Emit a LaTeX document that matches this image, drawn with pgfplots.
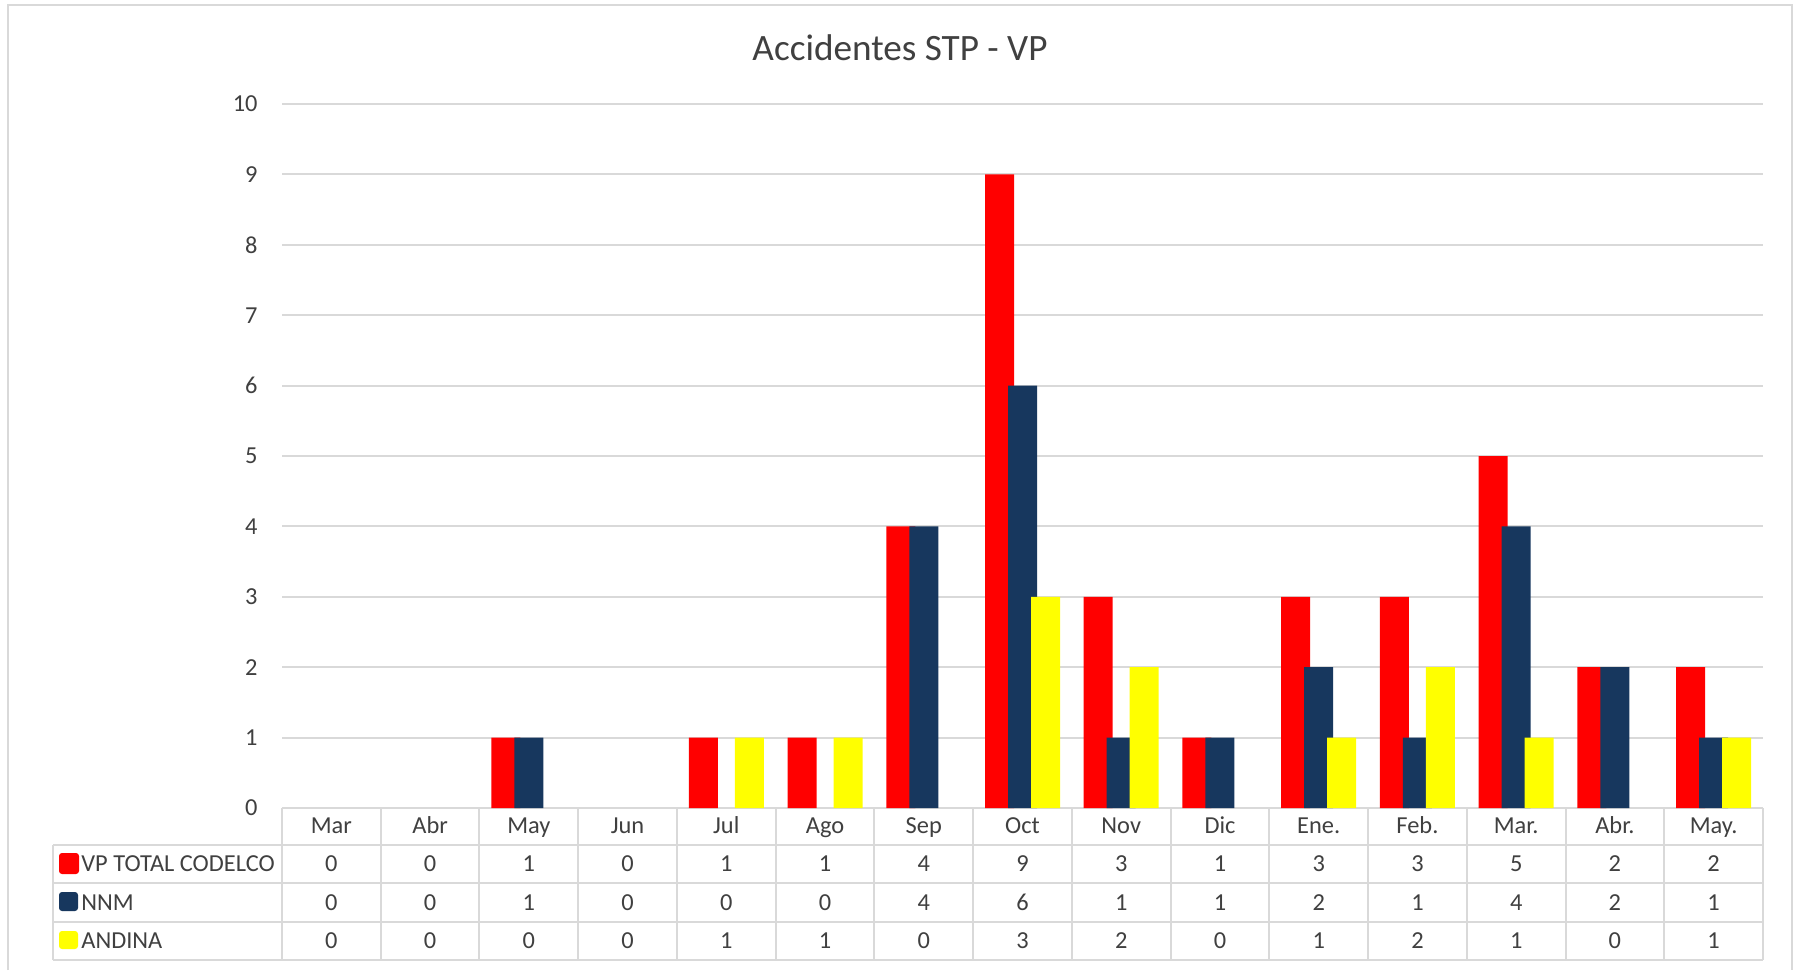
\documentclass[border=0pt]{standalone}
\usepackage{pgfplots}
\usepackage{pgfplotstable}
\usepackage{fontspec}
\setmainfont{Carlito}
\pgfplotsset{compat=1.18, /pgf/number format/assume math mode=true}
\definecolor{cred}{HTML}{FF0000}
\definecolor{cnavy}{HTML}{17375E}
\definecolor{cyel}{HTML}{FFFF00}
\definecolor{gridc}{HTML}{D9D9D9}
\definecolor{txt}{HTML}{404040}
\pgfplotstableread{
i month red nnm andina
0 Mar 0 0 0
1 Abr 0 0 0
2 May 1 1 0
3 Jun 0 0 0
4 Jul 1 0 1
5 Ago 1 0 1
6 Sep 4 4 0
7 Oct 9 6 3
8 Nov 3 1 2
9 Dic 1 1 0
10 Ene. 3 2 1
11 Feb. 3 1 2
12 Mar. 5 4 1
13 Abr. 2 2 0
14 May. 2 1 1
}\data
\begin{document}
\begin{tikzpicture}[font=\fontsize{12.2}{14}\selectfont]
\path[fill=white] (0,0) rectangle (899.5pt,485pt);
\draw[gridc, line width=1pt] (4pt,0) -- (4pt,482.5pt) -- (896pt,482.5pt) -- (896pt,0);
\node[anchor=base, text=txt, font=\fontsize{18.6}{22}\selectfont, inner sep=0pt] at (450pt,454.5pt) {Accidentes STP - VP};
\begin{axis}[
  at={(141pt,81pt)}, anchor=south west,
  scale only axis, width=740.5pt, height=352pt,
  xmin=-0.5, xmax=14.5, ymin=0, ymax=10,
  ytick={0,1,...,10},
  xtick={0,1,...,14},
  xticklabels={Mar,Abr,May,Jun,Jul,Ago,Sep,Oct,Nov,Dic,Ene.,Feb.,Mar.,Abr.,May.},
  ymajorgrids, grid style={line width=1pt, draw=gridc},
  axis line style={draw=none}, tick style={draw=none}, major tick length=0pt,
  yticklabel style={anchor=east, inner sep=0pt, xshift=-12pt, text=txt},
  xticklabel style={anchor=base, inner sep=0pt, yshift=-12.5pt, text=txt},
  clip=false,
  unbounded coords=discard,
  every node near coord/.append style={anchor=base, inner sep=0pt, text=txt, font=\fontsize{12.2}{14}\selectfont},
]
\addplot[ybar, bar width=14.5pt, bar shift=-11.5pt, fill=cred, draw=none, y filter/.expression={y==0 ? nan : y}] table[x=i, y=red]{\data};
\addplot[ybar, bar width=14.5pt, bar shift=0pt, fill=cnavy, draw=none, y filter/.expression={y==0 ? nan : y}] table[x=i, y=nnm]{\data};
\addplot[ybar, bar width=14.5pt, bar shift=11.5pt, fill=cyel, draw=none, y filter/.expression={y==0 ? nan : y}] table[x=i, y=andina]{\data};
\addplot[draw=none, nodes near coords, point meta=explicit] table[x=i, y expr=-0.895, meta=red]{\data};
\addplot[draw=none, nodes near coords, point meta=explicit] table[x=i, y expr=-1.449, meta=nnm]{\data};
\addplot[draw=none, nodes near coords, point meta=explicit] table[x=i, y expr=-1.989, meta=andina]{\data};
\end{axis}
% data table grid
\begin{scope}[gridc, line width=1pt]
\foreach \k in {0,...,15} \draw (141pt+\k*49.3667pt,81pt) -- (141pt+\k*49.3667pt,5pt);
\draw (26.5pt,62.5pt) -- (26.5pt,5pt);
\foreach \y in {62.5,43.5,24,5} \draw (26.5pt,\y pt) -- (881.5pt,\y pt);
\end{scope}
% legend keys
\fill[cred, rounded corners=1.5pt] (29.5pt,48pt) rectangle (39.5pt,58.5pt);
\fill[cnavy, rounded corners=1.5pt] (29.5pt,29.5pt) rectangle (39pt,39pt);
\fill[cyel, rounded corners=1.5pt] (29.5pt,10.5pt) rectangle (39pt,19.5pt);
\node[anchor=base west, inner sep=0pt, text=txt] at (40.5pt,49.5pt) {VP TOTAL CODELCO};
\node[anchor=base west, inner sep=0pt, text=txt] at (40.5pt,30pt) {NNM};
\node[anchor=base west, inner sep=0pt, text=txt] at (40.5pt,11pt) {ANDINA};
\end{tikzpicture}
\end{document}
